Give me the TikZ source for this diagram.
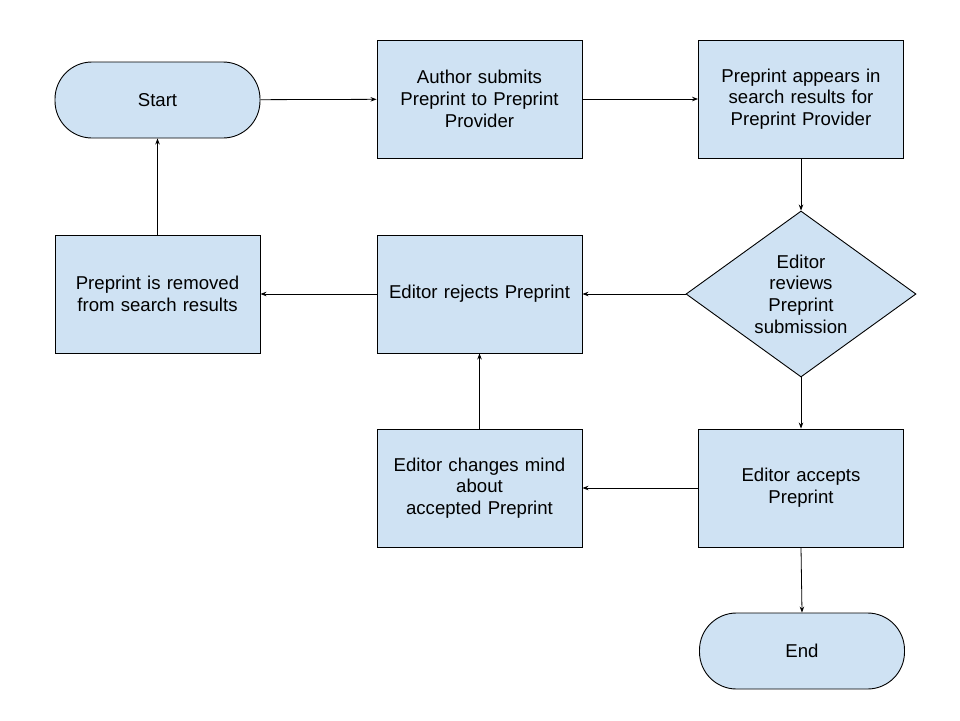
\documentclass[tikz,border=0pt]{standalone}
\usepackage{fontspec}
\setmainfont{Liberation Sans}
\usetikzlibrary{shapes.geometric,arrows.meta}
\definecolor{boxfill}{HTML}{CFE2F3}
\tikzset{
  every node/.style={font=\fontsize{18.6}{21.7}\selectfont, align=center},
  procbox/.style={draw=black, fill=boxfill, line width=0.9pt, minimum width=205pt, minimum height=118pt, inner sep=2pt, text width=200pt},
  termbox/.style={draw=black, fill=boxfill, line width=0.9pt, rounded corners=37pt, minimum width=205pt, minimum height=76pt},
  decbox/.style={draw=black, fill=boxfill, line width=0.9pt, diamond, minimum width=230pt, minimum height=166pt, inner sep=0pt},
  conn/.style={-{Stealth[length=6pt,width=4.5pt]}, line width=0.8pt}
}
\begin{document}
\begin{tikzpicture}[x=1pt,y=-1pt]
\useasboundingbox (0,0) rectangle (960,720);
\node[termbox] (start) at (157.5,100) {Start};
\node[procbox] (author) at (479.5,99) {Author submits\\Preprint to Preprint\\Provider};
\node[procbox] (appears) at (801,99) {Preprint appears in\\search results for\\Preprint Provider};
\node[decbox] (review) at (801,294) {};
\node (reviewtext) at (review.center) {Editor\\reviews\\Preprint\\submission};
\node[procbox] (reject) at (479.5,294) {Editor rejects Preprint};
\node[procbox] (removed) at (157.5,294) {Preprint is removed\\from search results};
\node[procbox] (change) at (479.5,488) {Editor changes mind\\about\\accepted Preprint};
\node[procbox] (accept) at (801,488) {Editor accepts\\Preprint};
\node[termbox] (end) at (802,651) {End};
\draw[conn] (start) -- (author);
\draw[conn] (author) -- (appears);
\draw[conn] (appears) -- (review);
\draw[conn] (review) -- (reject);
\draw[conn] (reject) -- (removed);
\draw[conn] (removed) -- (start);
\draw[conn] (review) -- (accept);
\draw[conn] (accept) -- (change);
\draw[conn] (change) -- (reject);
\draw[conn] (accept.south) -- (end.north);
\end{tikzpicture}
\end{document}
